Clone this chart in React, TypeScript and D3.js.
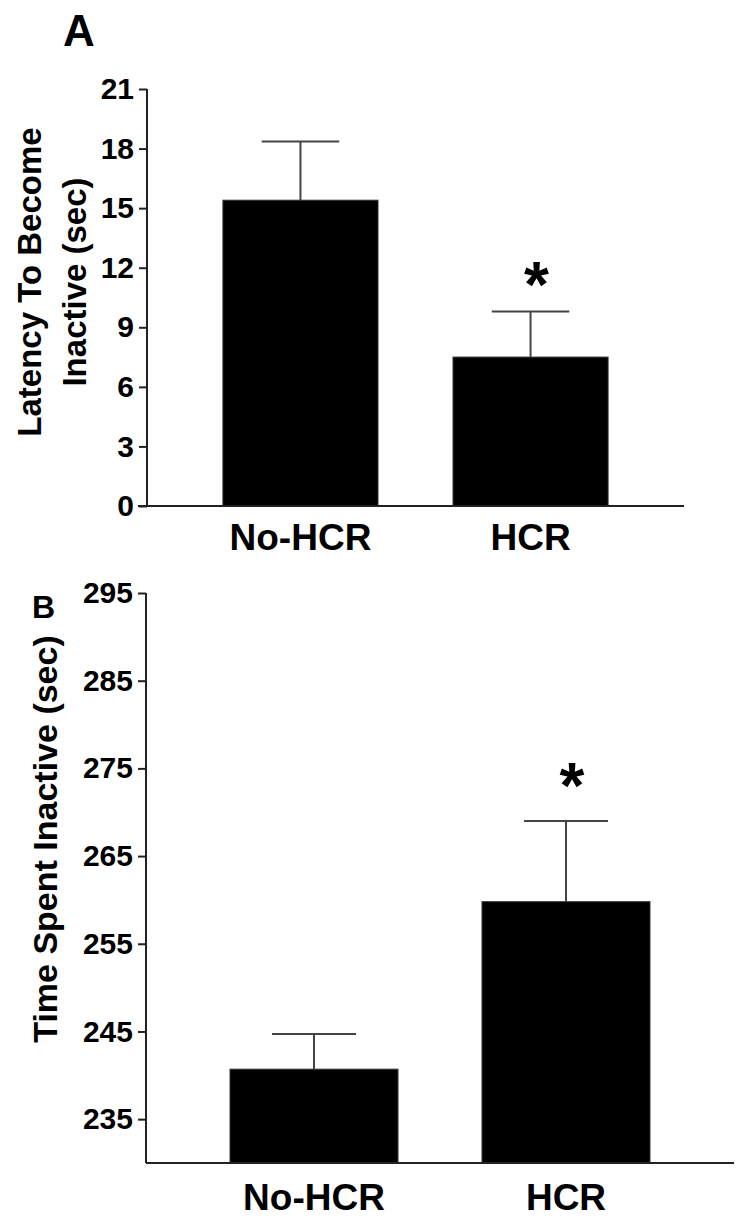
import React, { useEffect, useRef } from 'react'
import * as d3 from 'd3'

// Panel A: latency to become inactive
const GROUPS = ['No-HCR', 'HCR']
const LATENCY_MEAN = [15.4, 7.5]
const LATENCY_SEM = [2.95, 2.3]
const LATENCY_TICKS = [0, 3, 6, 9, 12, 15, 18, 21]

// Panel B: time spent inactive
const INACTIVE_MEAN = [240.7, 259.8]
const INACTIVE_SEM = [4.0, 9.2]
const INACTIVE_TICKS = [235, 245, 255, 265, 275, 285, 295]

const SIG = [false, true]

const W = 751
const H = 1227
const FONT = 'Arial, "Liberation Sans", Helvetica, sans-serif'
const AXIS_COLOR = '#222'
const ERR_COLOR = '#444'

type Panel = {
  means: number[]
  sems: number[]
  ticks: number[]
  domain: [number, number]
  yRange: [number, number]
  xRange: [number, number]
  padIn: number
  padOut: number
  baseExtend: number
  starGap: number
  labelY: number
}

function drawPanel(g: d3.Selection<SVGGElement, unknown, null, undefined>, p: Panel) {
  const x = d3.scaleBand<string>().domain(GROUPS).range(p.xRange)
    .paddingInner(p.padIn).paddingOuter(p.padOut)
  const y = d3.scaleLinear().domain(p.domain).range(p.yRange)
  const bw = x.bandwidth()

  // bars
  g.selectAll('.bar').data(GROUPS).join('rect').attr('class', 'bar')
    .attr('x', d => x(d)!)
    .attr('y', (d, i) => y(p.means[i]))
    .attr('width', bw)
    .attr('height', (d, i) => y(p.domain[0]) - y(p.means[i]))
    .attr('fill', '#000').attr('stroke', '#333').attr('stroke-width', 1)

  // error bars (upper only)
  GROUPS.forEach((d, i) => {
    const cx = x(d)! + bw / 2
    const top = y(p.means[i] + p.sems[i])
    g.append('line').attr('x1', cx).attr('x2', cx)
      .attr('y1', y(p.means[i])).attr('y2', top)
      .attr('stroke', ERR_COLOR).attr('stroke-width', 2)
    g.append('line').attr('x1', cx - bw / 4).attr('x2', cx + bw / 4)
      .attr('y1', top).attr('y2', top)
      .attr('stroke', ERR_COLOR).attr('stroke-width', 2)
    if (SIG[i]) {
      g.append('text').attr('x', cx + 6).attr('y', top - p.starGap)
        .attr('text-anchor', 'middle').attr('font-family', FONT)
        .attr('font-weight', 'bold').attr('font-size', 64).attr('fill', '#000')
        .text('*')
    }
  })

  // y axis
  const ax = g.append('g').attr('transform', `translate(${p.xRange[0]},0)`)
    .call(d3.axisLeft(y).tickValues(p.ticks).tickSize(8).tickSizeOuter(0).tickPadding(5))
  ax.select('.domain').remove()
  ax.selectAll('.tick line').attr('stroke', AXIS_COLOR).attr('stroke-width', 2)
  ax.selectAll('.tick text').attr('fill', '#000').attr('font-size', 30)
    .attr('font-family', FONT).attr('font-weight', 'bold')
  g.append('line').attr('x1', p.xRange[0]).attr('x2', p.xRange[0])
    .attr('y1', y(p.ticks[p.ticks.length - 1])).attr('y2', y(p.domain[0]))
    .attr('stroke', AXIS_COLOR).attr('stroke-width', 2)

  // baseline
  g.append('line').attr('x1', p.xRange[0] - p.baseExtend).attr('x2', p.xRange[1])
    .attr('y1', y(p.domain[0])).attr('y2', y(p.domain[0]))
    .attr('stroke', AXIS_COLOR).attr('stroke-width', 2)

  // category labels
  g.selectAll('.cat').data(GROUPS).join('text').attr('class', 'cat')
    .attr('x', d => x(d)! + bw / 2).attr('y', p.labelY)
    .attr('text-anchor', 'middle').attr('font-family', FONT)
    .attr('font-weight', 'bold').attr('font-size', 37).attr('fill', '#000')
    .text(d => d)
}

export default function App() {
  const ref = useRef<SVGSVGElement>(null)

  useEffect(() => {
    const svg = d3.select(ref.current)
    svg.selectAll('*').remove()
    const g = svg.append('g') as d3.Selection<SVGGElement, unknown, null, undefined>

    drawPanel(g.append('g'), {
      means: LATENCY_MEAN, sems: LATENCY_SEM, ticks: LATENCY_TICKS,
      domain: [0, 21], yRange: [506, 89], xRange: [147, 684],
      padIn: 0.326, padOut: 0.33, baseExtend: 9, starGap: 4, labelY: 550,
    })
    drawPanel(g.append('g'), {
      means: INACTIVE_MEAN, sems: INACTIVE_SEM, ticks: INACTIVE_TICKS,
      domain: [230, 295], yRange: [1163, 593], xRange: [146, 734],
      padIn: 1 / 3, padOut: 1 / 3, baseExtend: 0, starGap: 13, labelY: 1210,
    })

    // panel letters
    g.append('text').attr('x', 63).attr('y', 46).attr('font-family', FONT)
      .attr('font-weight', 'bold').attr('font-size', 44).text('A')
    g.append('text').attr('x', 32).attr('y', 618).attr('font-family', FONT)
      .attr('font-weight', 'bold').attr('font-size', 32).text('B')

    // y titles
    const titleA = g.append('text').attr('transform', 'translate(0,282) rotate(-90)')
      .attr('text-anchor', 'middle').attr('font-family', FONT)
      .attr('font-weight', 'bold').attr('font-size', 33)
    titleA.append('tspan').attr('x', 0).attr('y', 41).text('Latency To Become')
    titleA.append('tspan').attr('x', 0).attr('y', 86).text('Inactive (sec)')

    g.append('text').attr('transform', 'translate(57,839) rotate(-90)')
      .attr('text-anchor', 'middle').attr('font-family', FONT)
      .attr('font-weight', 'bold').attr('font-size', 34)
      .text('Time Spent Inactive (sec)')
  }, [])

  return (
    <div style={{ position: 'absolute', left: 0, top: 0, background: '#fff' }}>
      <svg ref={ref} width={W} height={H} style={{ display: 'block' }} />
    </div>
  )
}
